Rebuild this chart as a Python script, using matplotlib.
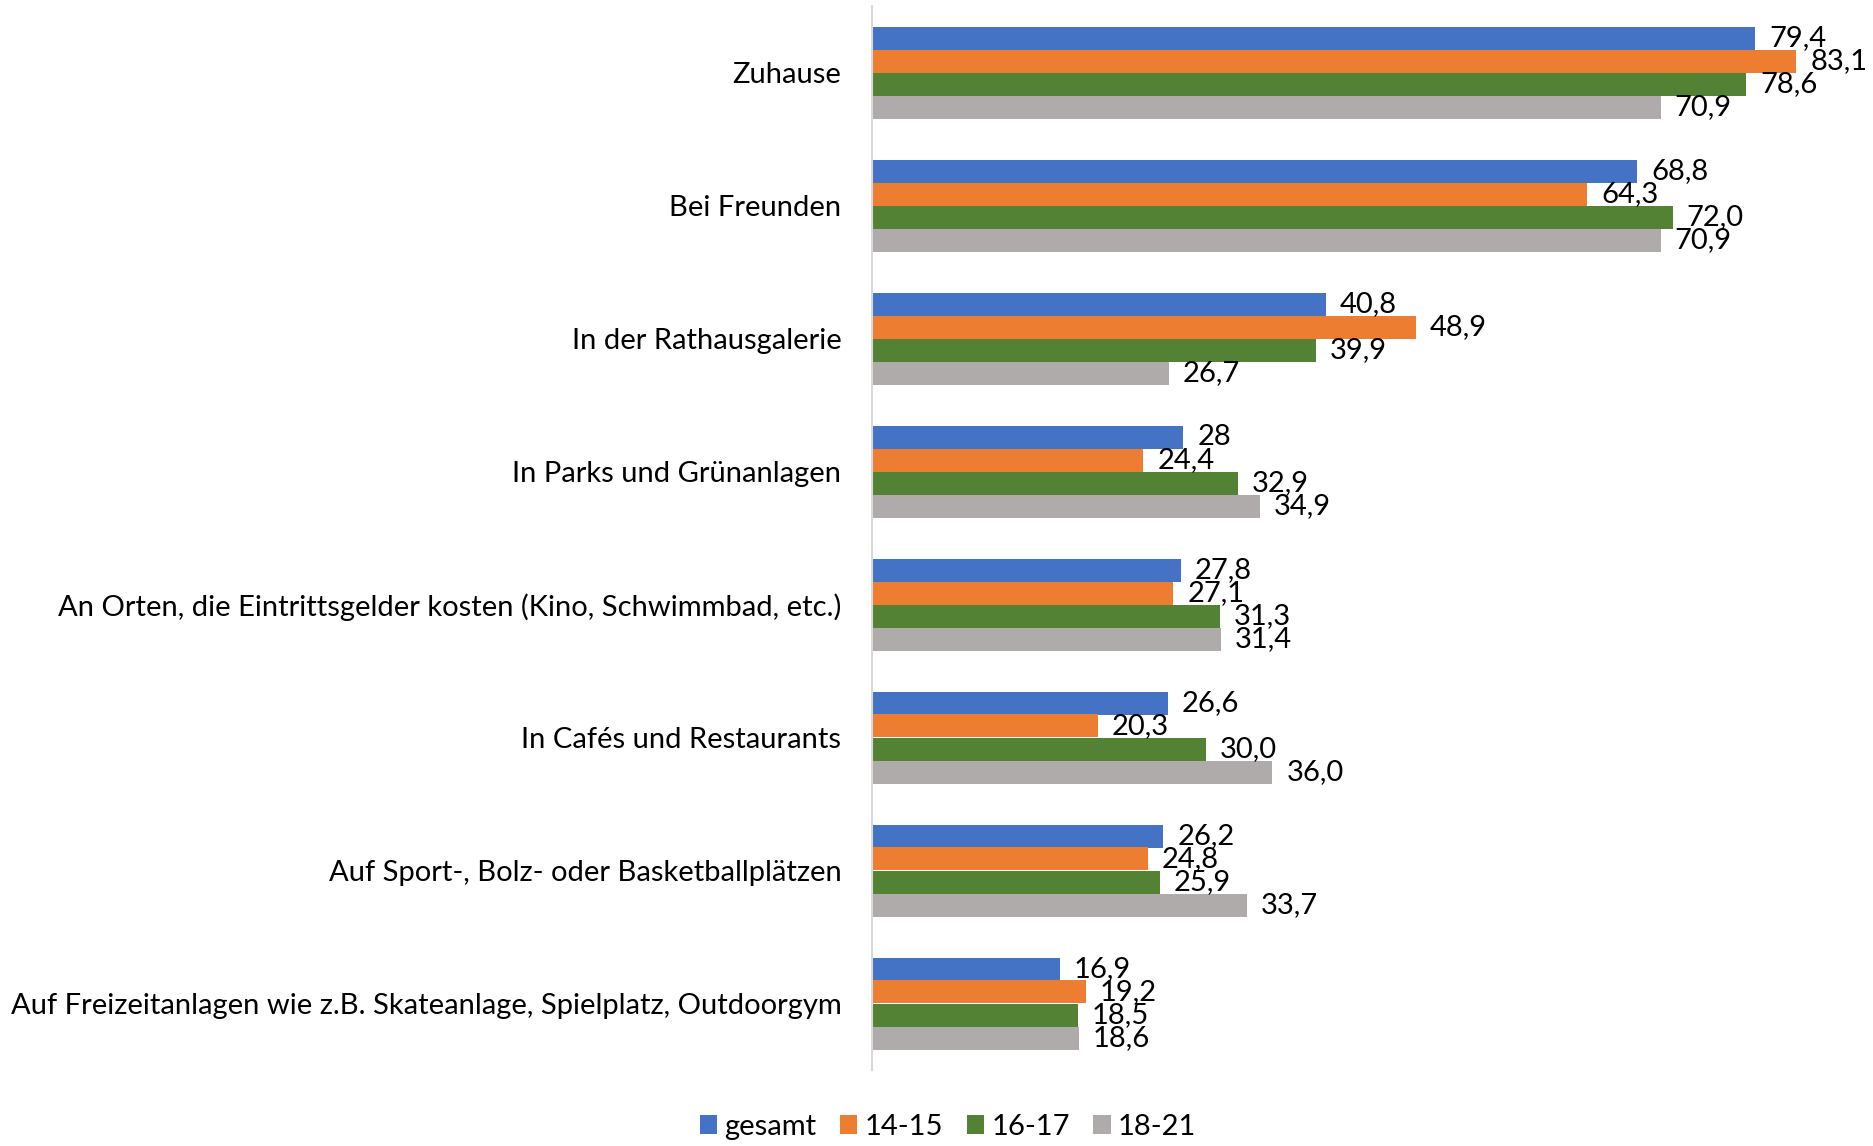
import matplotlib
matplotlib.use("Agg")
import matplotlib.pyplot as plt
import numpy as np

categories = [
    "Zuhause",
    "Bei Freunden",
    "In der Rathausgalerie",
    "In Parks und Grünanlagen",
    "An Orten, die Eintrittsgelder kosten (Kino, Schwimmbad, etc.)",
    "In Cafés und Restaurants",
    "Auf Sport-, Bolz- oder Basketballplätzen",
    "Auf Freizeitanlagen wie z.B. Skateanlage, Spielplatz, Outdoorgym",
]
series_names = ["gesamt", "14-15", "16-17", "18-21"]
gesamt = [79.4, 68.8, 40.8, 28.0, 27.8, 26.6, 26.2, 16.9]
age_14_15 = [83.1, 64.3, 48.9, 24.4, 27.1, 20.3, 24.8, 19.2]
age_16_17 = [78.6, 72.0, 39.9, 32.9, 31.3, 30.0, 25.9, 18.5]
age_18_21 = [70.9, 70.9, 26.7, 34.9, 31.4, 36.0, 33.7, 18.6]
labels_gesamt = ["79,4", "68,8", "40,8", "28", "27,8", "26,6", "26,2", "16,9"]
labels_14_15 = ["83,1", "64,3", "48,9", "24,4", "27,1", "20,3", "24,8", "19,2"]
labels_16_17 = ["78,6", "72,0", "39,9", "32,9", "31,3", "30,0", "25,9", "18,5"]
labels_18_21 = ["70,9", "70,9", "26,7", "34,9", "31,4", "36,0", "33,7", "18,6"]

colors = ["#4472C4", "#ED7D31", "#548235", "#AFABAB"]
values = [gesamt, age_14_15, age_16_17, age_18_21]
labels = [labels_gesamt, labels_14_15, labels_16_17, labels_18_21]

FONT = "Lato"
FS = 21.0
plt.rcParams["font.family"] = [FONT, "DejaVu Sans"]

fig = plt.figure(figsize=(18.74, 11.46), dpi=100)
ax = fig.add_axes([872 / 1874, 1 - 1070 / 1146, 1001 / 1874, 1064 / 1146])

y = np.arange(len(categories))
h = 23 / 133
offsets = [-1.5, -0.5, 0.5, 1.5]
handles = []
for vals, labs, col, off, name in zip(values, labels, colors, offsets, series_names):
    bars = ax.barh(y + off * h, vals, height=h, color=col, label=name, zorder=2)
    handles.append(bars)
    for b, t in zip(bars, labs):
        ax.annotate(t, (b.get_width(), b.get_y() + b.get_height() / 2),
                    xytext=(10, 0), textcoords="offset points",
                    ha="left", va="center", fontsize=FS, color="black",
                    annotation_clip=False, zorder=3)

ax.set_xlim(0, 90)
ax.set_ylim(len(categories) - 0.5, -0.5)
ax.set_yticks(y)
ax.set_yticklabels(categories, fontsize=FS)
ax.tick_params(axis="y", length=0, pad=22)
ax.set_xticks([])
for s in ["top", "right", "bottom"]:
    ax.spines[s].set_visible(False)
ax.spines["left"].set_color("#D9D9D9")
ax.spines["left"].set_linewidth(1.5)

fig.legend(handles=handles, labels=series_names, loc="center",
           bbox_to_anchor=(948 / 1874, 1 - 1127 / 1146), ncol=4, frameon=False,
           fontsize=FS, handlelength=0.6, handleheight=0.6, handletextpad=0.25,
           columnspacing=0.8)

fig.savefig("out.png", dpi=100)
